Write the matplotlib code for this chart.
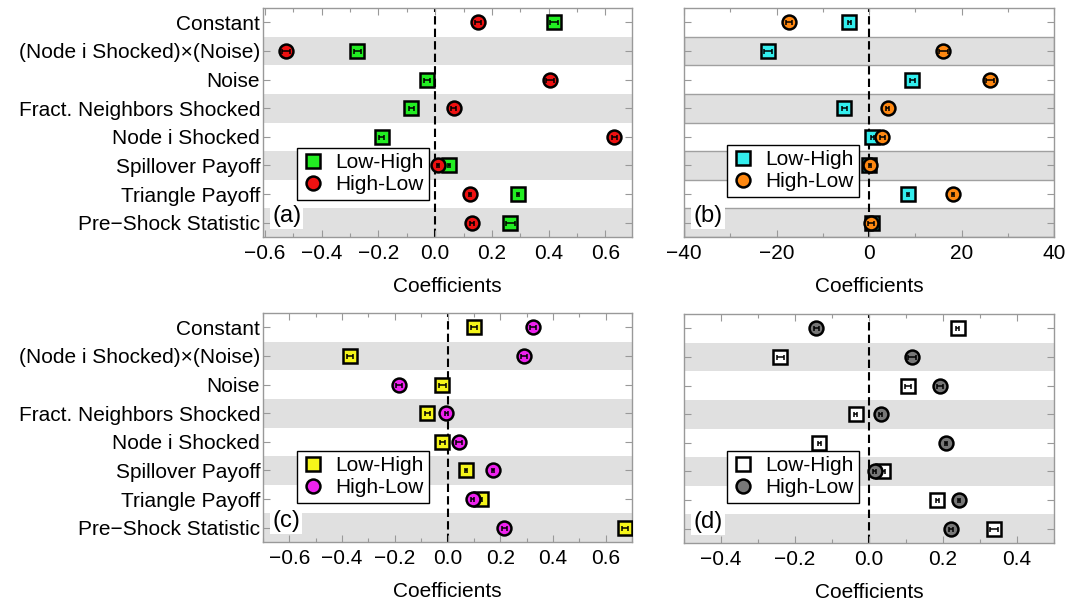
import matplotlib
matplotlib.use("Agg")
import matplotlib.pyplot as plt
from matplotlib.lines import Line2D
from matplotlib.ticker import MultipleLocator

plt.rcParams['font.family'] = ['Liberation Sans', 'DejaVu Sans']

categories = ["Constant", "(Node i Shocked)×(Noise)", "Noise", "Fract. Neighbors Shocked",
              "Node i Shocked", "Spillover Payoff", "Triangle Payoff", "Pre−Shock Statistic"]

# Panel (a)
a_low_high = [0.419, -0.274, -0.029, -0.084, -0.189, 0.050, 0.292, 0.264]
a_low_high_err = [0.014, 0.012, 0.010, 0.008, 0.008, 0.004, 0.004, 0.016]
a_high_low = [0.150, -0.525, 0.405, 0.065, 0.632, 0.009, 0.124, 0.130]
a_high_low_err = [0.010, 0.014, 0.014, 0.008, 0.010, 0.004, 0.004, 0.008]

# Panel (b)
b_low_high = [-4.3, -21.8, 9.4, -5.3, 0.7, 0.0, 8.5, 0.7]
b_low_high_err = [0.3, 0.8, 0.6, 0.5, 0.3, 0.2, 0.2, 0.8]
b_high_low = [-17.3, 16.1, 26.2, 4.0, 2.9, 0.2, 18.2, 0.4]
b_high_low_err = [0.6, 0.9, 0.8, 0.3, 0.6, 0.3, 0.2, 0.6]

# Panel (c)
c_low_high = [0.101, -0.370, -0.019, -0.076, -0.019, 0.070, 0.127, 0.673]
c_low_high_err = [0.011, 0.011, 0.012, 0.010, 0.008, 0.003, 0.004, 0.011]
c_high_low = [0.323, 0.291, -0.184, -0.004, 0.044, 0.173, 0.095, 0.215]
c_high_low_err = [0.011, 0.012, 0.012, 0.006, 0.010, 0.005, 0.004, 0.010]

# Panel (d)
d_low_high = [0.240, -0.240, 0.106, -0.036, -0.134, 0.038, 0.184, 0.337]
d_low_high_err = [0.004, 0.010, 0.008, 0.004, 0.003, 0.004, 0.004, 0.011]
d_high_low = [-0.142, 0.116, 0.192, 0.032, 0.208, 0.015, 0.243, 0.222]
d_high_low_err = [0.006, 0.010, 0.009, 0.004, 0.003, 0.004, 0.002, 0.006]

series_labels = ["Low-High", "High-Low"]

W, H = 1087, 602
fig = plt.figure(figsize=(W / 100, H / 100), dpi=100)


def px_axes(left, top, right, bottom):
    return fig.add_axes([left / W, (H - bottom) / H, (right - left) / W, (bottom - top) / H])


panels = [
    dict(box=(263, 8, 632, 237), lh=a_low_high, lhe=a_low_high_err, hl=a_high_low, hle=a_high_low_err,
         c1='#22ee22', c2='#ee1111', xlim=(-0.607, 0.694), major=0.2, minor=0.1, label='(a)', ylab=True,
         fmt='{:.1f}', borders=False, leg=(297, 148, 426, 198)),
    dict(box=(684, 8, 1054, 237), lh=b_low_high, lhe=b_low_high_err, hl=b_high_low, hle=b_high_low_err,
         c1='#33eeee', c2='#ff8811', xlim=(-40, 40), major=20, minor=10, label='(b)', ylab=False,
         fmt='{:.0f}', borders=True, leg=(727, 145, 855, 195)),
    dict(box=(263, 313, 632, 542), lh=c_low_high, lhe=c_low_high_err, hl=c_high_low, hle=c_high_low_err,
         c1='#f5f51a', c2='#ee22ee', xlim=(-0.7, 0.7), major=0.2, minor=0.1, label='(c)', ylab=True,
         fmt='{:.1f}', borders=False, leg=(297, 451, 426, 501)),
    dict(box=(684, 314, 1054, 543), lh=d_low_high, lhe=d_low_high_err, hl=d_high_low, hle=d_high_low_err,
         c1='#ffffff', c2='#777777', xlim=(-0.5, 0.5), major=0.2, minor=0.1, label='(d)', ylab=False,
         fmt='{:.1f}', borders=False, leg=(727, 451, 855, 502)),
]

frame_col = '#999999'
ypos = list(range(len(categories)))

for p in panels:
    ax = px_axes(*p['box'])
    ax.set_xlim(*p['xlim'])
    ax.set_ylim(len(categories) - 0.5, -0.5)
    for i in ypos:
        if i % 2 == 1:
            ax.axhspan(i - 0.5, i + 0.5, facecolor='#e0e0e0',
                       edgecolor='#a0a0a0' if p['borders'] else 'none',
                       linewidth=1.0, zorder=0)
    ax.axvline(0, color='black', linestyle=(0, (4, 2)), linewidth=1.5, zorder=1)

    ax.plot(p['lh'], ypos, linestyle='none', marker='s', markersize=10, markerfacecolor=p['c1'],
            markeredgecolor='black', markeredgewidth=1.8, zorder=3)
    ax.errorbar(p['lh'], ypos, xerr=p['lhe'], fmt='none', ecolor='black', elinewidth=1.1,
                capsize=1.8, capthick=1.1, zorder=4)
    ax.plot(p['hl'], ypos, linestyle='none', marker='o', markersize=10, markerfacecolor=p['c2'],
            markeredgecolor='black', markeredgewidth=1.8, zorder=5)
    ax.errorbar(p['hl'], ypos, xerr=p['hle'], fmt='none', ecolor='black', elinewidth=1.1,
                capsize=1.8, capthick=1.1, zorder=6)

    ax.xaxis.set_major_locator(MultipleLocator(p['major']))
    ax.xaxis.set_minor_locator(MultipleLocator(p['minor']))
    ax.set_yticks(ypos)
    if p['ylab']:
        ax.set_yticklabels(categories, fontsize=15)
    else:
        ax.set_yticklabels([])
    fmt = p['fmt']
    ax.set_xticks([t for t in ax.get_xticks() if p['xlim'][0] - 1e-9 <= t <= p['xlim'][1] + 1e-9])
    ax.set_xticklabels([fmt.format(t).replace('-', '−') if abs(t) > 1e-9 else fmt.format(0.0)
                        for t in ax.get_xticks()], fontsize=15)
    ax.tick_params(axis='both', which='major', direction='in', length=5, width=0.8, color=frame_col,
                   top=True, right=True, pad=5)
    ax.tick_params(axis='x', which='minor', direction='in', length=3, width=0.8, color=frame_col,
                   top=True, bottom=True)
    ax.tick_params(axis='y', which='major', pad=2)
    for s in ax.spines.values():
        s.set_color(frame_col)
        s.set_linewidth(1.0)
    ax.set_xlabel('Coefficients', fontsize=15, labelpad=10)

    ax.text(0.025, 0.045, p['label'], transform=ax.transAxes, fontsize=17, ha='left', va='bottom',
            zorder=8, bbox=dict(facecolor='white', edgecolor='none', pad=1.5))

    handles = [Line2D([], [], linestyle='none', marker='s', markersize=10, markerfacecolor=p['c1'],
                      markeredgecolor='black', markeredgewidth=1.8),
               Line2D([], [], linestyle='none', marker='o', markersize=10, markerfacecolor=p['c2'],
                      markeredgecolor='black', markeredgewidth=1.8)]
    l, t, r, b = p['leg']
    x0, x1 = p['box'][0], p['box'][2]
    y0, y1 = p['box'][1], p['box'][3]
    leg = ax.legend(handles, series_labels, loc='upper left',
                    bbox_to_anchor=((l - x0) / (x1 - x0), (y1 - t) / (y1 - y0)),
                    fontsize=15, frameon=True, fancybox=False, framealpha=1.0, edgecolor='black',
                    borderpad=0.25, labelspacing=0.15, handlelength=1.0, handletextpad=0.6,
                    borderaxespad=0.0)
    leg.get_frame().set_linewidth(1.0)
    leg.set_zorder(10)

fig.savefig('out.png', dpi=100)
